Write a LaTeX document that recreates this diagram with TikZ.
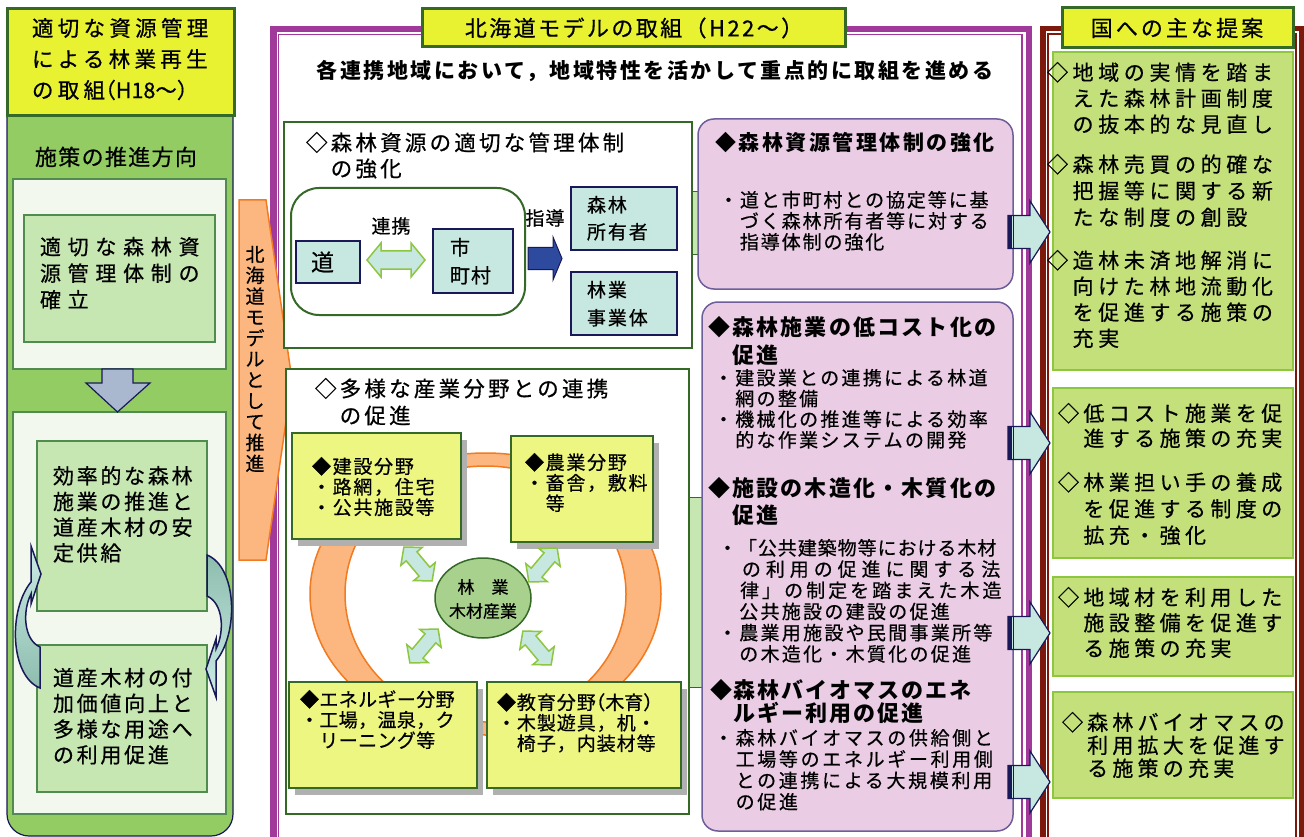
\documentclass[tikz,border=0pt]{standalone}
\usepackage{fontspec}
\setmainfont{Noto Sans CJK JP}[UprightFeatures={FakeBold=0.6}]
\usetikzlibrary{shapes.geometric}
\definecolor{ttlyel}{RGB}{232,242,48}
\definecolor{boxyel}{RGB}{238,246,130}
\definecolor{dgreen}{RGB}{52,105,40}
\definecolor{colgreen}{RGB}{146,204,98}
\definecolor{panelc}{RGB}{242,248,238}
\definecolor{innergr}{RGB}{198,230,178}
\definecolor{midgreen}{RGB}{80,140,80}
\definecolor{tealc}{RGB}{198,232,224}
\definecolor{navy}{RGB}{25,25,90}
\definecolor{pinkf}{RGB}{234,205,228}
\definecolor{pinkb}{RGB}{110,95,155}
\definecolor{lime}{RGB}{196,224,122}
\definecolor{limeb}{RGB}{141,198,63}
\definecolor{purp}{RGB}{160,57,154}
\definecolor{dred}{RGB}{125,25,12}
\definecolor{orf}{RGB}{251,183,127}
\definecolor{ors}{RGB}{242,122,32}
\definecolor{arrblue}{RGB}{46,74,158}
\definecolor{greyarr}{RGB}{169,184,207}
\definecolor{shadowc}{RGB}{176,176,176}
\definecolor{corec}{RGB}{169,209,142}
\definecolor{cyanl}{RGB}{203,235,230}
\definecolor{cyand}{RGB}{141,189,174}
\newcommand\F[3]{\fontsize{#1}{#2}\selectfont\addfontfeature{LetterSpace=#3}}
\newcommand\mybox[6]{\node[#6, anchor=north west, inner sep=0pt, outer sep=0pt, minimum width={(#4-#2)*1pt}, minimum height={(#5-#3)*1pt}] (#1) at (#2,#3) {};}
\newcommand\dbarrow[3]{\begin{scope}[shift={(#1,#2)}, rotate=#3]\draw[limeb, fill=tealc, line width=1.5pt] (-22,0) -- (-10,-14) -- (-10,-7) -- (10,-7) -- (10,-14) -- (22,0) -- (10,14) -- (10,7) -- (-10,7) -- (-10,14) -- cycle;\end{scope}}
\tikzset{
 txt/.style={inner sep=0pt, outer sep=0pt, anchor=north west, align=left},
 ctxt/.style={inner sep=0pt, outer sep=0pt, align=center},
 titlebox/.style={draw=dgreen, line width=3pt, fill=ttlyel},
 tealbox/.style={draw=navy, line width=1.8pt, fill=tealc},
 ybox/.style={draw=dgreen, line width=2pt, fill=boxyel},
 pinkbox/.style={draw=pinkb, line width=1.5pt, fill=pinkf, rounded corners=16pt},
 limebox/.style={draw=limeb, line width=2pt, fill=lime},
 panelbox/.style={draw=midgreen, line width=1.5pt, fill=panelc},
 innerbox/.style={draw=midgreen, line width=2pt, fill=innergr},
 gbox/.style={draw=dgreen, line width=2.5pt, fill=white},
 linkbox/.style={draw=dgreen, line width=1pt, fill=innergr},
 rarrow/.style={draw=navy, line width=1.2pt, fill=tealc}
}
\begin{document}
\begin{tikzpicture}[x=1pt,y=-1pt]
\useasboundingbox (0,0) rectangle (1304,837);
\fill[white] (0,0) rectangle (1304,837);

% ---------- left column ----------
\mybox{colbg}{7}{60}{233}{836}{draw=navy, line width=1.2pt, fill=colgreen, rounded corners=22pt}
\mybox{ltitle}{7}{9}{234}{116}{titlebox}
\node[txt, font=\F{21.5}{31}{20}] (ltitletxt) at (32,18) {適切な資源管理\\による林業再生\\の取組{\addfontfeature{LetterSpace=0,RawFeature=+halt}（H18〜）}};
\node[txt, font=\F{22}{26}{6}] (dirtxt) at (35,146.7) {施策の推進方向};
\mybox{panel1}{13}{179}{226}{369}{panelbox}
\mybox{ib1}{24}{215}{215}{342}{innerbox}
\node[txt, font=\F{21}{26.5}{32}] (ib1txt) at (40,237) {適切な森林資\\源管理体制の\\確立};
\mybox{panel2}{13}{412}{226}{814}{panelbox}
\mybox{ib2}{37}{441}{207}{611}{innerbox}
\mybox{ib3}{37}{645}{207}{792}{innerbox}
\node[txt, font=\F{21}{25.7}{13}] (ib2txt) at (53,466) {効率的な森林\\施業の推進と\\道産木材の安\\定供給};
\node[txt, font=\F{21}{25.7}{13}] (ib3txt) at (53,668) {道産木材の付\\加価値向上と\\多様な用途へ\\の利用促進};
\draw[navy, line width=1.2pt, fill=greyarr] (102,369) -- (133,369) -- (133,383) -- (150,383) -- (117.5,412) -- (86,383) -- (102,383) -- cycle;
\draw[navy, line width=1.5pt, top color=cyanl, bottom color=cyand] (31,546) -- (41,574) -- (31,604) -- (31,594) .. controls (22,612) and (24,640) .. (40,647) -- (40,688) .. controls (10,676) and (8,610) .. (31,582) -- cycle;
\draw[navy, line width=1.5pt, top color=cyand, bottom color=cyanl] (216,697) -- (206,669) -- (216,639) -- (216,649) .. controls (225,631) and (223,603) .. (207,596) -- (207,555) .. controls (237,567) and (239,633) .. (216,661) -- cycle;

% ---------- middle frame ----------
\draw[purp, line width=6.5pt] (273.25,29.25) rectangle (1028.75,880);
\draw[purp, line width=1.5pt] (278.5,34.5) rectangle (1022,880);
\mybox{mtitle}{422}{9}{845}{47}{titlebox}
\node[ctxt, font=\F{22}{26}{11}] (mtitletxt) at (634,28) {北海道モデルの取組（H22〜）};
\node[ctxt, font=\bfseries\F{21}{26}{12}] (subtitle) at (655,71) {各連携地域において，地域特性を活かして重点的に取組を進める};

% orange arrow
\draw[ors, fill=orf, line width=1.5pt] (239,200) -- (266,200) -- (292,380) -- (266,560) -- (239,560) -- cycle;
\node[ctxt, anchor=north, font=\F{19}{20.9}{0}] (hmodel) at (255,246) {北\\海\\道\\モ\\デ\\ル\\と\\し\\て\\推\\進};

% box A
\mybox{linkA}{689}{192}{700}{255}{linkbox}
\mybox{boxA}{284}{122}{692}{348}{gbox}
\node[txt, font=\F{21.5}{26}{15}] (boxAtxt) at (306,132) {◇森林資源の適切な管理体制\\　の強化};
\mybox{grp}{291}{188}{525}{315}{draw=dgreen, line width=2pt, fill=white, rounded corners=28pt}
\mybox{michi}{296}{241}{360}{283}{tealbox}
\node[ctxt, font=\F{23}{26}{0}] (michitxt) at (322.5,262) {道};
\node[ctxt, font=\F{19}{24}{5}] (renkei) at (391,226) {連携};
\draw[limeb, fill=tealc, line width=1.5pt] (367,260) -- (381,243) -- (381,251) -- (411,251) -- (411,243) -- (425,260) -- (411,277) -- (411,269) -- (381,269) -- (381,277) -- cycle;
\mybox{shi}{433}{229}{513}{293}{tealbox}
\node[txt, font=\F{20}{28}{5}] (shitxt) at (450,238) {市\\町村};
\node[ctxt, font=\F{19}{24}{5}] (shido) at (545,218) {指導};
\draw[navy, fill=arrblue, line width=1pt] (528,247.5) -- (553,247.5) -- (553,237) -- (562,258.5) -- (553,280) -- (553,269.5) -- (528,269.5) -- cycle;
\mybox{owner}{571}{187}{677}{250}{tealbox}
\node[txt, font=\F{19}{27}{10}] (ownertxt) at (587,196) {森林\\所有者};
\mybox{firm}{571}{272}{677}{335}{tealbox}
\node[txt, font=\F{19}{28}{10}] (firmtxt) at (587,281) {林業\\事業体};

% box B
\mybox{linkB}{688}{497}{704}{687}{linkbox}
\mybox{boxB}{286}{369}{689}{814}{gbox}
\node[txt, font=\F{21.5}{27}{15}] (boxBtxt) at (315,378) {◇多様な産業分野との連携\\　の促進};
\path[fill=orf, even odd rule] (485.5,594) ellipse [x radius=175.5, y radius=141] (485.5,594) ellipse [x radius=140.5, y radius=128];
\draw[ors, line width=1.5pt] (485.5,594) ellipse [x radius=175.5, y radius=141];
\draw[ors, line width=1.5pt] (485.5,594) ellipse [x radius=140.5, y radius=128];
\fill[shadowc] (298,440) rectangle (467,546);
\mybox{kensetsu}{292}{433}{461}{539}{ybox}
\node[txt, font=\F{19}{20.5}{9}] (kensetsutxt) at (312,457) {◆建設分野\\・路網，住宅\\・公共施設等};
\fill[shadowc] (517,443) rectangle (659,549);
\mybox{nogyo}{511}{436}{653}{542}{ybox}
\node[txt, font=\F{19}{20.5}{9}] (nogyotxt) at (525,453) {◆農業分野\\・畜舎，敷料\\　等};
\fill[shadowc] (295,689) rectangle (483,795);
\mybox{energy}{289}{682}{477}{788}{ybox}
\node[txt, font=\F{19}{20.5}{2}] (energytxt) at (300,690) {◆エネルギー分野\\・工場，温泉，ク\\　リーニング等};
\fill[shadowc] (493,689) rectangle (687,795);
\mybox{kyoiku}{487}{682}{681}{788}{ybox}
\node[txt, font=\F{19}{20.5}{5}] (kyoikutxt) at (497,693) {◆教育分野{\addfontfeature{LetterSpace=0,RawFeature=+halt}（木育）}\\・木製遊具，机・\\　椅子，内装材等};
\node[ellipse, draw=dgreen, line width=1.5pt, fill=corec, minimum width=96pt, minimum height=80pt, inner sep=0pt] (core) at (483,598) {};
\node[ctxt, font=\F{17}{24}{0}] (coretxt) at (483,599) {林　業\\木材産業};
\dbarrow{418}{564}{-50}
\dbarrow{543}{565}{50}
\dbarrow{424}{646}{50}
\dbarrow{537}{648}{-50}

% pink boxes
\mybox{pink1}{698}{119}{1013}{289}{pinkbox}
\node[txt, font=\bfseries\F{21}{26}{12}] (p1title) at (715,132) {◆森林資源管理体制の強化};
\node[txt, font=\F{19}{21}{10}] (p1body) at (719,191) {・道と市町村との協定等に基\\　づく森林所有者等に対する\\　指導体制の強化};
\mybox{pink2}{702}{302}{1013}{831}{pinkbox}
\node[txt, font=\bfseries\F{22}{28}{10}] (p2t1) at (708,316.5) {◆森林施業の低コスト化の\\　促進};
\node[txt, font=\F{19}{20.7}{12}] (p2b1) at (714,369) {・建設業との連携による林道\\　網の整備\\・機械化の推進等による効率\\　的な作業システムの開発};
\node[txt, font=\bfseries\F{22}{27}{10}] (p2t2) at (708,477.5) {◆施設の木造化・木質化の\\　促進};
\node[txt, font=\F{19}{21.2}{5}] (p2b2) at (718,539) {・「公共建築物等における木材\\{\addfontfeature{LetterSpace=26}　の利用の促進に関する法}\\{\addfontfeature{LetterSpace=16}　律」の制定を踏まえた木造}\\{\addfontfeature{LetterSpace=12}　公共施設の建設の促進}\\{\addfontfeature{LetterSpace=12}・農業用施設や民間事業所等}\\{\addfontfeature{LetterSpace=12}　の木造化・木質化の促進}};
\node[txt, font=\bfseries\F{22}{23}{9}] (p2t3) at (710,679.5) {◆森林バイオマスのエネ\\　ルギー利用の促進};
\node[txt, font=\F{19}{21.3}{14}] (p2b3) at (714,729) {・森林バイオマスの供給側と\\　工場等のエネルギー利用側\\　との連携による大規模利用\\　の促進};

% ---------- right column ----------
\draw[dred, line width=5.5pt] (1042.75,28.75) rectangle (1301.25,880);
\draw[dred, line width=2pt] (1048,34.5) rectangle (1295.5,880);
\mybox{rtitle}{1062}{8}{1293}{48}{titlebox}
\node[ctxt, font=\F{22}{26}{14}] (rtitletxt) at (1177,28) {国への主な提案};
\mybox{g1}{1053}{52}{1293}{370}{limebox}
\mybox{g2}{1053}{388}{1293}{558}{limebox}
\mybox{g3}{1053}{577}{1293}{676}{limebox}
\mybox{g4}{1053}{692}{1293}{798}{limebox}
\node[txt, font=\F{21}{26}{22}] (g1a) at (1047,62) {◇地域の実情を踏ま\\　えた森林計画制度\\　の抜本的な見直し};
\node[txt, font=\F{21}{26.5}{22}] (g1b) at (1047,154) {◇森林売買の的確な\\　把握等に関する新\\　たな制度の創設};
\node[txt, font=\F{21}{26}{22}] (g1c) at (1047,250) {◇造林未済地解消に\\　向けた林地流動化\\　を促進する施策の\\　充実};
\node[txt, font=\F{21}{25}{21}] (g2a) at (1058,403) {◇低コスト施業を促\\　進する施策の充実};
\node[txt, font=\F{21}{26.5}{21}] (g2b) at (1058,472) {◇林業担い手の養成\\　を促進する制度の\\　拡充・強化};
\node[txt, font=\F{21}{25.5}{21}] (g3a) at (1058,587) {◇地域材を利用した\\　施設整備を促進す\\　る施策の充実};
\node[txt, font=\F{21}{23}{20}] (g4a) at (1062,712) {◇森林バイオマスの\\　利用拡大を促進す\\　る施策の充実};

% right block arrows
\foreach \c in {232,443,633,782}{
 \draw[rarrow] (1008,\c-16.5) -- (1030,\c-16.5) -- (1030,\c-31) -- (1050,\c) -- (1030,\c+31) -- (1030,\c+16.5) -- (1008,\c+16.5) -- cycle;
 \fill[navy] (1008,\c-16.5) rectangle (1011.5,\c+16.5);
 \draw[navy, line width=0.8pt] (1013.5,\c-16.5) -- (1013.5,\c+16.5);
}
\end{tikzpicture}
\end{document}
